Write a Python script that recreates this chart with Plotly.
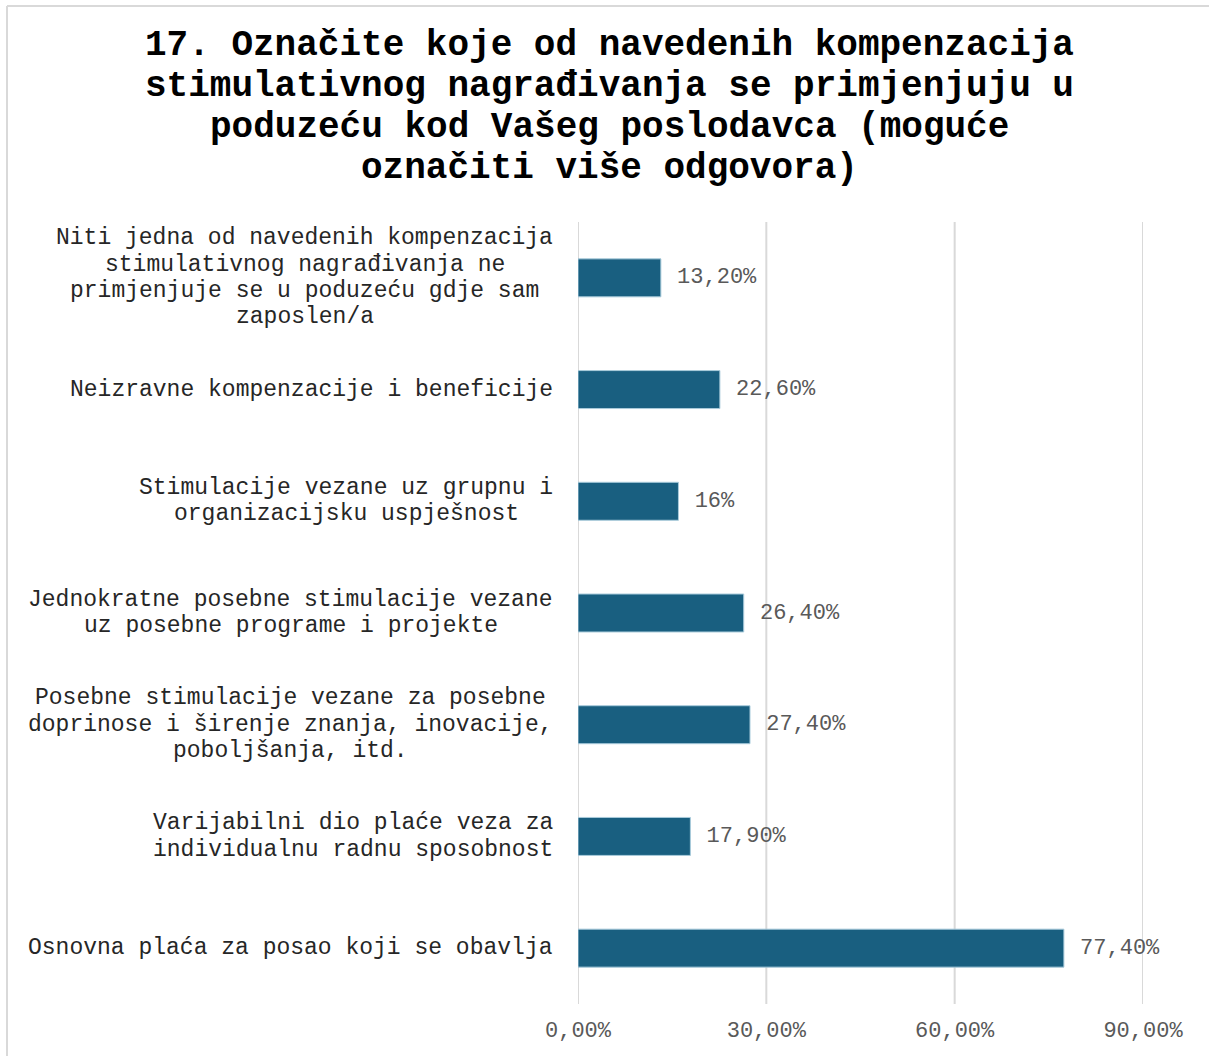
import plotly.graph_objects as go

title_lines = [
    "17. Označite koje od navedenih kompenzacija",
    "stimulativnog nagrađivanja se primjenjuju u",
    "poduzeću kod Vašeg poslodavca (moguće",
    "označiti više odgovora)",
]

categories = [
    ["Niti jedna od navedenih kompenzacija", "stimulativnog nagrađivanja ne",
     "primjenjuje se u poduzeću gdje sam", "zaposlen/a"],
    ["Neizravne kompenzacije i beneficije"],
    ["Stimulacije vezane uz grupnu i", "organizacijsku uspješnost"],
    ["Jednokratne posebne stimulacije vezane", "uz posebne programe i projekte"],
    ["Posebne stimulacije vezane za posebne", "doprinose i širenje znanja, inovacije,",
     "poboljšanja, itd."],
    ["Varijabilni dio plaće veza za", "individualnu radnu sposobnost"],
    ["Osnovna plaća za posao koji se obavlja"],
]
values = [13.2, 22.6, 16.0, 26.4, 27.4, 17.9, 77.4]
value_labels = ["13,20%", "22,60%", "16%", "26,40%", "27,40%", "17,90%", "77,40%"]
tick_vals = [0, 30, 60, 90]
tick_text = ["0,00%", "30,00%", "60,00%", "90,00%"]

W, H = 1209, 1056
ML, MR, MT, MB = 578, 66, 222, 48
PW, PH = W - ML - MR, H - MT - MB
FONT = "Liberation Mono, Courier New, monospace"
LBL_SIZE = 23
CHAR_W = LBL_SIZE * 0.6
LINE_H = 26.3

def px_x(x):
    return (x - ML) / PW

def px_y(y):
    return (H - MB - y) / PH

keys = [" ".join(c) for c in categories]

fig = go.Figure(go.Bar(
    x=values, y=keys, orientation="h",
    marker=dict(color="#195f80", line=dict(color="#a9cbdb", width=1)),
    text=[" " + t for t in value_labels], textposition="outside",
    textfont=dict(family=FONT, size=22, color="#595959"),
    constraintext="none", cliponaxis=False, hoverinfo="skip",
))

annotations = []
for i, lines in enumerate(title_lines):
    annotations.append(dict(
        text=f"<b>{lines}</b>", xref="paper", yref="paper",
        x=px_x(609), y=px_y(45 + i * 41), xanchor="center", yanchor="middle",
        showarrow=False, font=dict(family=FONT, size=36, color="#000000"),
    ))

for key, lines in zip(keys, categories):
    m = max(len(l) for l in lines)
    n = len(lines)
    for k, line in enumerate(lines):
        annotations.append(dict(
            text=line, xref="paper", yref="y", x=0, y=key,
            xanchor="center", yanchor="middle",
            xshift=-25 - m * CHAR_W / 2,
            yshift=-(k - (n - 1) / 2) * LINE_H,
            showarrow=False, font=dict(family=FONT, size=LBL_SIZE, color="#262626"),
        ))

shapes = [
    dict(type="line", xref="paper", yref="paper", x0=px_x(7), x1=px_x(1260),
         y0=px_y(5), y1=px_y(5), line=dict(color="#d9d9d9", width=2)),
    dict(type="line", xref="paper", yref="paper", x0=px_x(7), x1=px_x(7),
         y0=px_y(5), y1=px_y(1100), line=dict(color="#d9d9d9", width=2)),
]
for tv in tick_vals:
    shapes.append(dict(type="line", xref="x", yref="paper", x0=tv, x1=tv,
                       y0=0, y1=1, layer="below",
                       line=dict(color="#d9d9d9", width=2)))

fig.update_layout(
    width=W, height=H, margin=dict(l=ML, r=MR, t=MT, b=MB),
    paper_bgcolor="white", plot_bgcolor="white",
    showlegend=False, bargap=0.66,
    annotations=annotations, shapes=shapes,
    xaxis=dict(range=[0, 90], tickvals=tick_vals, ticktext=tick_text,
               showgrid=False, zeroline=False, showline=False, ticks="",
               tickfont=dict(family=FONT, size=22, color="#595959"),
               ticklabelstandoff=10),
    yaxis=dict(autorange="reversed", showticklabels=False, showgrid=False,
               zeroline=False, showline=False, ticks=""),
)

fig.write_html("out.html")
